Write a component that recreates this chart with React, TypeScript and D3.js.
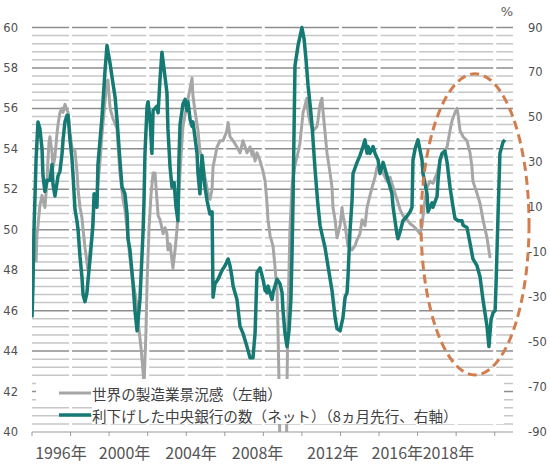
import React from "react";
import * as d3 from "d3";

// 世界の製造業景況感（左軸）
const pmiDates = [
  1995.21, 1995.26, 1995.31, 1995.41, 1995.52, 1995.57, 1995.67, 1995.78, 1995.83, 1995.88,
  1995.93, 1996.04, 1996.09, 1996.19, 1996.30, 1996.35, 1996.45, 1996.56, 1996.61, 1996.71,
  1996.82, 1996.87, 1996.97, 1997.07, 1997.13, 1997.23, 1997.33, 1997.39, 1997.49, 1997.59,
  1997.65, 1997.75, 1997.85, 1997.90, 1998.01, 1998.11, 1998.16, 1998.27, 1998.37, 1998.53,
  1998.63, 1998.79, 1998.89, 1998.94, 1999.05, 1999.20, 1999.41, 1999.46, 1999.56, 1999.67,
  1999.72, 1999.82, 1999.93, 2000.08, 2000.24, 2000.45, 2000.50, 2000.65, 2000.76, 2000.81,
  2000.91, 2000.97, 2001.07, 2001.17, 2001.28, 2001.38, 2001.48, 2001.54, 2001.64, 2001.80,
  2001.90, 2002.00, 2002.05, 2002.16, 2002.26, 2002.31, 2002.42, 2002.52, 2002.57, 2002.68,
  2002.78, 2002.83, 2003.04, 2003.20, 2003.30, 2003.35, 2003.45, 2003.61, 2003.71, 2003.87,
  2003.97, 2004.13, 2004.23, 2004.34, 2004.39, 2004.60, 2004.75, 2004.91, 2005.11, 2005.17,
  2005.27, 2005.43, 2005.63, 2005.79, 2005.94, 2006.05, 2006.15, 2006.31, 2006.41, 2006.46,
  2006.57, 2006.67, 2006.83, 2006.98, 2007.09, 2007.19, 2007.24, 2007.35, 2007.50, 2007.60,
  2007.71, 2007.76, 2007.81, 2007.86, 2007.97, 2008.07, 2008.18, 2008.23, 2008.28, 2008.38,
  2008.49, 2008.64, 2008.75, 2008.90, 2009.06, 2009.26, 2009.32, 2009.42, 2009.58, 2009.78,
  2009.83, 2009.94, 2010.04, 2010.09, 2010.20, 2010.30, 2010.46, 2010.56, 2010.61, 2010.72,
  2010.82, 2010.98, 2011.08, 2011.13, 2011.24, 2011.39, 2011.60, 2011.75, 2011.86, 2012.01,
  2012.12, 2012.27, 2012.38, 2012.53, 2012.64, 2012.79, 2012.90, 2013.05, 2013.21, 2013.41,
  2013.57, 2013.73, 2013.93, 2014.09, 2014.24, 2014.45, 2014.61, 2014.76, 2014.97, 2015.13,
  2015.23, 2015.33, 2015.49, 2015.64, 2015.80, 2016.01, 2016.16, 2016.32, 2016.53, 2016.68,
  2016.79, 2016.94, 2017.04, 2017.10, 2017.20, 2017.36, 2017.56, 2017.72, 2017.82, 2017.87,
  2018.08, 2018.24, 2018.39, 2018.60, 2018.76,
];
const pmiValues = [
  48.4, 49.8, 50.2, 51.2, 51.7, 51.5, 51.1, 52.4, 53.5, 54.3,
  54.6, 53.8, 53.1, 53.6, 54.8, 55.2, 55.8, 56.0, 55.8, 56.2,
  55.9, 55.8, 54.8, 54.1, 53.9, 53.9, 52.9, 52.0, 51.1, 50.6,
  50.0, 49.1, 48.4, 48.0, 48.9, 49.7, 50.6, 51.5, 51.7, 53.4,
  54.7, 56.4, 57.3, 57.4, 56.0, 55.5, 55.0, 54.2, 52.8, 51.9,
  51.5, 51.0, 50.1, 48.6, 47.4, 46.3, 45.5, 44.2, 43.0, 42.3,
  44.9, 47.4, 50.1, 51.7, 52.8, 52.8, 51.5, 50.7, 50.5, 49.8,
  50.1, 49.8, 49.0, 49.3, 48.5, 48.1, 49.0, 50.0, 50.8, 52.9,
  54.4, 55.1, 56.2, 57.0, 57.5, 56.6, 55.9, 54.9, 53.9, 53.3,
  52.6, 51.8, 51.5, 52.0, 53.1, 54.1, 54.4, 54.4, 54.9, 55.3,
  54.6, 54.4, 54.1, 53.8, 54.4, 54.1, 53.8, 54.1, 53.7, 53.9,
  53.4, 53.8, 53.4, 52.9, 52.4, 51.3, 50.5, 49.7, 49.2, 48.2,
  47.0, 45.0, 42.6, 39.1, 36.0, 34.5, 37.0, 42.6, 46.0, 50.0,
  52.2, 53.2, 53.6, 54.3, 55.8, 56.5, 55.8, 55.3, 54.9, 55.1,
  55.4, 56.2, 56.5, 55.9, 54.8, 53.8, 52.8, 52.1, 51.1, 50.5,
  49.6, 50.2, 51.1, 50.7, 50.2, 49.2, 49.0, 49.2, 49.5, 49.8,
  50.5, 50.2, 51.1, 51.7, 52.1, 52.6, 53.1, 53.1, 52.8, 52.4,
  52.6, 52.1, 51.5, 51.0, 50.7, 50.5, 50.3, 50.2, 50.0, 49.8,
  50.2, 51.1, 52.1, 52.4, 52.3, 52.8, 53.4, 53.8, 54.1, 54.9,
  55.4, 55.8, 56.0, 55.7, 54.9, 54.6, 54.4, 53.8, 53.1, 52.4,
  51.8, 51.3, 50.5, 49.6, 48.6,
];

// 利下げした中央銀行の数（ネット）（8ヵ月先行、右軸）
const cutDates = [
  1995.00, 1995.05, 1995.10, 1995.16, 1995.21, 1995.31, 1995.41, 1995.52, 1995.57, 1995.67,
  1995.78, 1995.93, 1996.04, 1996.09, 1996.19, 1996.30, 1996.35, 1996.45, 1996.56, 1996.61,
  1996.71, 1996.82, 1996.87, 1996.97, 1997.07, 1997.13, 1997.23, 1997.33, 1997.39, 1997.49,
  1997.59, 1997.65, 1997.75, 1997.85, 1997.90, 1998.01, 1998.16, 1998.22, 1998.32, 1998.37,
  1998.42, 1998.53, 1998.63, 1998.79, 1998.89, 1999.05, 1999.15, 1999.31, 1999.41, 1999.56,
  1999.67, 1999.82, 1999.93, 1999.98, 2000.08, 2000.24, 2000.34, 2000.45, 2000.60, 2000.76,
  2000.81, 2000.86, 2000.97, 2001.02, 2001.12, 2001.22, 2001.28, 2001.48, 2001.54, 2001.64,
  2001.74, 2001.90, 2002.00, 2002.05, 2002.16, 2002.26, 2002.37, 2002.47, 2002.57, 2002.62,
  2002.68, 2002.83, 2002.94, 2003.04, 2003.09, 2003.20, 2003.30, 2003.35, 2003.56, 2003.61,
  2003.71, 2003.82, 2003.87, 2003.97, 2004.08, 2004.23, 2004.34, 2004.39, 2004.49, 2004.65,
  2004.86, 2005.01, 2005.17, 2005.27, 2005.37, 2005.43, 2005.63, 2005.79, 2005.94, 2006.15,
  2006.31, 2006.46, 2006.57, 2006.67, 2006.83, 2006.98, 2007.09, 2007.19, 2007.24, 2007.45,
  2007.50, 2007.71, 2007.86, 2007.97, 2008.02, 2008.12, 2008.23, 2008.33, 2008.43, 2008.49,
  2008.54, 2008.64, 2008.80, 2009.00, 2009.11, 2009.21, 2009.32, 2009.42, 2009.52, 2009.68,
  2009.83, 2009.94, 2010.04, 2010.20, 2010.35, 2010.56, 2010.72, 2010.82, 2010.98, 2011.13,
  2011.24, 2011.34, 2011.39, 2011.49, 2011.60, 2011.65, 2011.86, 2012.01, 2012.17, 2012.27,
  2012.38, 2012.43, 2012.53, 2012.69, 2012.79, 2012.95, 2013.05, 2013.15, 2013.21, 2013.31,
  2013.41, 2013.47, 2013.67, 2013.73, 2013.93, 2013.98, 2014.09, 2014.24, 2014.45, 2014.61,
  2014.71, 2014.76, 2014.87, 2015.02, 2015.23, 2015.28, 2015.49, 2015.54, 2015.64, 2015.75,
  2015.80, 2016.01, 2016.06, 2016.16, 2016.27, 2016.42, 2016.53, 2016.68, 2016.84, 2016.94,
  2017.10, 2017.30, 2017.36, 2017.56, 2017.72, 2017.87, 2018.08, 2018.24, 2018.39, 2018.60,
  2018.70, 2018.81, 2018.91, 2019.02, 2019.07, 2019.17, 2019.27, 2019.43, 2019.53,
];
const cutValues = [
  -39, -25, -1, 16, 31, 48, 45, 36, 24, 17,
  22, 22, 29, 20, 15, 21, 24, 26, 34, 40,
  48, 51, 51, 40, 32, 24, 9, 4, 0, -12,
  -21, -29, -32, -28, -23, -13, 2, 16, 13, 10,
  29, 40, 50, 71, 82, 74, 68, 59, 49, 31,
  19, 16, 7, -4, -9, -24, -36, -45, -31, -1,
  13, 34, 55, 57, 49, 34, 53, 55, 52, 67,
  79, 68, 61, 45, 28, 19, 21, 10, 4, 31,
  47, 56, 58, 53, 57, 49, 46, 48, 34, 25,
  16, 33, 28, 19, 13, 7, 8, -30, -24, -22,
  -18, -16, -13, -16, -21, -25, -31, -43, -46, -52,
  -57, -57, -46, -19, -17, -22, -27, -28, -25, -31,
  -28, -22, -24, -28, -36, -46, -52, -45, -31, -9,
  13, 73, 82, 90, 85, 76, 64, 56, 47, 27,
  11, 2, -2, -8, -16, -27, -39, -44, -45, -39,
  -30, -28, -21, -1, 13, 25, 30, 33, 37, 40,
  34, 37, 34, 37, 34, 31, 25, 28, 30, 27,
  24, 22, 16, 10, -2, -4, -1, 4, 6, 8,
  10, 31, 36, 40, 31, 25, 16, 8, 10, 12,
  10, 15, 22, 31, 34, 35, 30, 19, 10, 5,
  4, 4, 2, 1, -6, -13, -16, -21, -31, -43,
  -52, -40, -37, -36, -24, 6, 34, 39, 40,
];

const leftTicks = [60, 58, 56, 54, 52, 50, 48, 46, 44, 42, 40];
const rightTicks = [90, 70, 50, 30, 10, -10, -30, -50, -70, -90];
const xTickYears = [1995, 1997, 1999, 2001, 2003, 2005, 2007, 2009, 2011, 2013, 2015, 2017, 2019];
const xLabels = ["1996年", "2000年", "2004年", "2008年", "2012年", "2016年", "2018年"];
const xLabelAt = [1996.5, 1999.8, 2003.25, 2006.7, 2010.6, 2013.95, 2016.6];
const legendLabels = [
  "世界の製造業景況感（左軸）",
  "利下げした中央銀行の数（ネット）（8ヵ月先行、右軸）",
];

const W = 550;
const H = 467;
const TEAL = "#157a74";
const GREY = "#a6a6a6";
const ORANGE = "#d27d4e";
const NUM_FONT = "'DejaVu Sans', sans-serif";
const JP_FONT = "'Noto Sans CJK JP', 'Noto Sans', sans-serif";

export default function App() {
  const x = d3.scaleLinear().domain([1995, 2020]).range([32, 514]);
  const yL = d3.scaleLinear().domain([40, 60]).range([432, 27.5]);
  const yR = d3.scaleLinear().domain([-90, 90]).range([432, 27.5]);

  const pmi: [number, number][] = pmiDates.map((d, i) => [d, pmiValues[i]]);
  const cuts: [number, number][] = cutDates.map((d, i) => [d, cutValues[i]]);
  const lineL = d3.line<[number, number]>().x((d) => x(d[0])).y((d) => yL(d[1]));
  const lineR = d3.line<[number, number]>().x((d) => x(d[0])).y((d) => yR(d[1]));

  const grid = d3.range(1, 51).map((i) => +(40 + i * 0.4).toFixed(1));
  const isMajor = (v: number) => Math.abs(v - Math.round(v)) < 1e-6 && Math.round(v) % 2 === 0;

  // annotation ellipse (data units)
  const eCx = x(2017.98);
  const eCy = yR(2.4);
  const eRx = x(2017.98 + 2.8) - eCx;
  const eRy = eCy - yR(2.4 + 67);

  return (
    <svg
      width={W}
      height={H}
      style={{ position: "absolute", left: 0, top: 0, background: "#fff" }}
    >
      <defs>
        <clipPath id="plotClip">
          <rect x={32} y={0} width={482} height={432} />
        </clipPath>
      </defs>
      <rect width={W} height={H} fill="#fff" />

      {/* gridlines */}
      {grid.map((v) => (
        <line
          key={v}
          x1={32}
          x2={513}
          y1={yL(v)}
          y2={yL(v)}
          stroke={isMajor(v) ? "#8e8e8e" : "#c6c6c6"}
          strokeWidth={1.5}
        />
      ))}
      {/* breaks in gridlines */}
      {xTickYears.slice(1).map((t) => (
        <line key={t} x1={x(t)} x2={x(t)} y1={20} y2={431} stroke="#fff" strokeWidth={3} />
      ))}

      {/* x axis */}
      <line x1={32} x2={513} y1={432} y2={432} stroke="#9a9a9a" strokeWidth={1.2} />
      {xTickYears.map((t) => (
        <line key={"t" + t} x1={x(t)} x2={x(t)} y1={432} y2={436} stroke="#9a9a9a" strokeWidth={1} />
      ))}

      {/* data */}
      <g clipPath="url(#plotClip)">
        <path d={lineL(pmi) || ""} fill="none" stroke={GREY} strokeWidth={3} strokeLinejoin="round" />
        <path d={lineR(cuts) || ""} fill="none" stroke={TEAL} strokeWidth={3.5} strokeLinejoin="round" />
      </g>

      {/* legend box */}
      <rect x={36} y={379} width={468} height={28} fill="#fff" />
      <rect x={92} y={407} width={412} height={17} fill="#fff" />
      <line x1={59} x2={91} y1={393} y2={393} stroke={GREY} strokeWidth={3} />
      <line x1={59} x2={91} y1={415} y2={415} stroke={TEAL} strokeWidth={3.5} />
      <text x={92} y={393} dominantBaseline="central" fontFamily={JP_FONT} fontSize={14.6} fill="#404040">
        {legendLabels[0]}
      </text>
      <text x={92} y={415} dominantBaseline="central" fontFamily={JP_FONT} fontSize={14.6} fill="#404040">
        {legendLabels[1]}
      </text>

      {/* ellipse annotation */}
      <ellipse
        cx={eCx}
        cy={eCy}
        rx={eRx}
        ry={eRy}
        fill="none"
        stroke={ORANGE}
        strokeWidth={3}
        strokeDasharray="9 5"
      />

      {/* left axis labels */}
      {leftTicks.map((v) => (
        <text
          key={"l" + v}
          x={18}
          y={yL(v)}
          textAnchor="end"
          dominantBaseline="central"
          fontFamily={NUM_FONT}
          fontSize={11.5}
          fill="#505050"
        >
          {v}
        </text>
      ))}
      {/* right axis labels */}
      {rightTicks.map((v) => (
        <text
          key={"r" + v}
          x={528}
          y={yR(v)}
          textAnchor="start"
          dominantBaseline="central"
          fontFamily={NUM_FONT}
          fontSize={11.5}
          fill="#505050"
        >
          {v}
        </text>
      ))}
      <text x={507} y={11} textAnchor="middle" dominantBaseline="central" fontFamily={NUM_FONT} fontSize={13} fill="#606060">
        %
      </text>

      {/* x labels */}
      {xLabels.map((s, i) => (
        <text
          key={s}
          x={x(xLabelAt[i])}
          y={452}
          textAnchor="middle"
          dominantBaseline="central"
          fontFamily={JP_FONT}
          fontSize={16}
          fill="#555"
        >
          {s}
        </text>
      ))}
    </svg>
  );
}
